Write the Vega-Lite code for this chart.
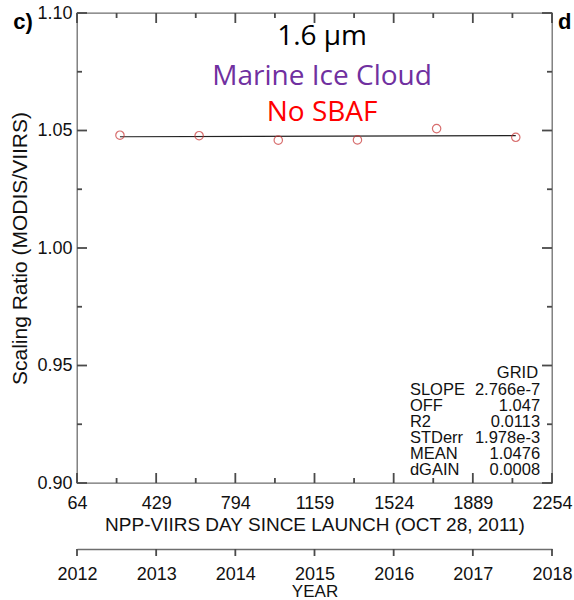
{
  "$schema": "https://vega.github.io/schema/vega-lite/v6.json",
  "width": 475,
  "height": 470,
  "autosize": "none",
  "padding": {"left": 77, "top": 13, "right": 22, "bottom": 117},
  "background": "white",
  "config": {
    "view": {"stroke": "#6e6e6e", "strokeWidth": 1.3},
    "axis": {
      "grid": false,
      "domain": false,
      "ticks": false,
      "domainColor": "#6e6e6e",
      "domainWidth": 1.3,
      "labelColor": "#111111",
      "titleColor": "#111111",
      "labelFont": "Liberation Sans",
      "titleFont": "Liberation Sans",
      "labelFontSize": 18,
      "titleFontSize": 19,
      "titleFontWeight": "normal",
      "labelFlush": false,
      "labelOverlap": false
    },
    "rule": {"color": "#4a4a4a", "strokeWidth": 1.8, "opacity": 1}
  },
  "datasets": {
    "obs": [
      {"day": 262, "ratio": 1.0480},
      {"day": 627, "ratio": 1.0478},
      {"day": 992, "ratio": 1.0459},
      {"day": 1357, "ratio": 1.0460},
      {"day": 1722, "ratio": 1.0508},
      {"day": 2087, "ratio": 1.0471}
    ],
    "fit": [
      {"day": 262, "ratio": 1.04735},
      {"day": 2087, "ratio": 1.04785}
    ],
    "dayMajor": [
      {"day": 64}, {"day": 429}, {"day": 794}, {"day": 1159},
      {"day": 1524}, {"day": 1889}, {"day": 2254}
    ],
    "dayMinor": [
      {"day": 246.5}, {"day": 611.5}, {"day": 976.5},
      {"day": 1341.5}, {"day": 1706.5}, {"day": 2071.5}
    ],
    "ratioMajor": [
      {"ratio": 0.9}, {"ratio": 0.95}, {"ratio": 1.0}, {"ratio": 1.05}, {"ratio": 1.1}
    ],
    "ratioMinor": [
      {"ratio": 0.925}, {"ratio": 0.975}, {"ratio": 1.025}, {"ratio": 1.075}
    ]
  },
  "resolve": {"axis": {"x": "independent", "y": "independent"}},
  "layer": [
    {
      "data": {"name": "fit"},
      "mark": {"type": "line", "color": "#222222", "strokeWidth": 1.2},
      "encoding": {
        "x": {
          "field": "day", "type": "quantitative",
          "scale": {"domain": [64, 2254], "nice": false, "zero": false},
          "axis": {
            "orient": "bottom",
            "values": [64, 429, 794, 1159, 1524, 1889, 2254],
            "format": "d",
            "labelPadding": 11,
            "title": "NPP-VIIRS DAY SINCE LAUNCH (OCT 28, 2011)",
            "titlePadding": 3
          }
        },
        "y": {
          "field": "ratio", "type": "quantitative",
          "scale": {"domain": [0.9, 1.1], "nice": false, "zero": false},
          "axis": {
            "orient": "left",
            "values": [0.9, 0.95, 1.0, 1.05, 1.1],
            "format": ".2f",
            "labelPadding": 5,
            "title": "Scaling Ratio (MODIS/VIIRS)",
            "titleFontSize": 21,
            "titlePadding": 6
          }
        }
      }
    },
    {
      "data": {"name": "obs"},
      "mark": {"type": "point", "shape": "circle", "filled": false, "color": "#c83232", "size": 70, "strokeWidth": 1.2},
      "encoding": {
        "x": {"field": "day", "type": "quantitative", "scale": {"domain": [64, 2254], "nice": false, "zero": false}, "axis": null},
        "y": {"field": "ratio", "type": "quantitative", "scale": {"domain": [0.9, 1.1], "nice": false, "zero": false}, "axis": null}
      }
    },
    {
      "data": {"name": "dayMajor"},
      "mark": {"type": "rule"},
      "encoding": {
        "x": {"field": "day", "type": "quantitative", "scale": {"domain": [64, 2254], "nice": false, "zero": false}, "axis": null},
        "y": {"datum": 0.9, "type": "quantitative", "scale": {"domain": [0.9, 1.1], "nice": false, "zero": false}, "axis": null},
        "y2": {"datum": 0.904255}
      }
    },
    {
      "data": {"name": "dayMajor"},
      "mark": {"type": "rule"},
      "encoding": {
        "x": {"field": "day", "type": "quantitative", "scale": {"domain": [64, 2254], "nice": false, "zero": false}, "axis": null},
        "y": {"datum": 1.1, "type": "quantitative", "scale": {"domain": [0.9, 1.1], "nice": false, "zero": false}, "axis": null},
        "y2": {"datum": 1.095745}
      }
    },
    {
      "data": {"name": "dayMinor"},
      "mark": {"type": "rule"},
      "encoding": {
        "x": {"field": "day", "type": "quantitative", "scale": {"domain": [64, 2254], "nice": false, "zero": false}, "axis": null},
        "y": {"datum": 0.9, "type": "quantitative", "scale": {"domain": [0.9, 1.1], "nice": false, "zero": false}, "axis": null},
        "y2": {"datum": 0.902128}
      }
    },
    {
      "data": {"name": "dayMinor"},
      "mark": {"type": "rule"},
      "encoding": {
        "x": {"field": "day", "type": "quantitative", "scale": {"domain": [64, 2254], "nice": false, "zero": false}, "axis": null},
        "y": {"datum": 1.1, "type": "quantitative", "scale": {"domain": [0.9, 1.1], "nice": false, "zero": false}, "axis": null},
        "y2": {"datum": 1.097872}
      }
    },
    {
      "data": {"name": "ratioMajor"},
      "mark": {"type": "rule"},
      "encoding": {
        "y": {"field": "ratio", "type": "quantitative", "scale": {"domain": [0.9, 1.1], "nice": false, "zero": false}, "axis": null},
        "x": {"datum": 64, "type": "quantitative", "scale": {"domain": [64, 2254], "nice": false, "zero": false}, "axis": null},
        "x2": {"datum": 110.1}
      }
    },
    {
      "data": {"name": "ratioMajor"},
      "mark": {"type": "rule"},
      "encoding": {
        "y": {"field": "ratio", "type": "quantitative", "scale": {"domain": [0.9, 1.1], "nice": false, "zero": false}, "axis": null},
        "x": {"datum": 2254, "type": "quantitative", "scale": {"domain": [64, 2254], "nice": false, "zero": false}, "axis": null},
        "x2": {"datum": 2207.9}
      }
    },
    {
      "data": {"name": "ratioMinor"},
      "mark": {"type": "rule"},
      "encoding": {
        "y": {"field": "ratio", "type": "quantitative", "scale": {"domain": [0.9, 1.1], "nice": false, "zero": false}, "axis": null},
        "x": {"datum": 64, "type": "quantitative", "scale": {"domain": [64, 2254], "nice": false, "zero": false}, "axis": null},
        "x2": {"datum": 87.05}
      }
    },
    {
      "data": {"name": "ratioMinor"},
      "mark": {"type": "rule"},
      "encoding": {
        "y": {"field": "ratio", "type": "quantitative", "scale": {"domain": [0.9, 1.1], "nice": false, "zero": false}, "axis": null},
        "x": {"datum": 2254, "type": "quantitative", "scale": {"domain": [64, 2254], "nice": false, "zero": false}, "axis": null},
        "x2": {"datum": 2230.95}
      }
    },
    {
      "data": {"name": "dayMajor"},
      "mark": {"type": "rule"},
      "encoding": {
        "x": {
          "field": "day", "type": "quantitative",
          "scale": {"domain": [64, 2254], "nice": false, "zero": false},
          "axis": {
            "orient": "bottom",
            "offset": 66,
            "domain": true,
            "values": [64, 429, 794, 1159, 1524, 1889, 2254],
            "labelExpr": "'' + (2012 + round((datum.value - 64) / 365))",
            "labelPadding": 16.5,
            "title": "YEAR",
            "titleFontSize": 17,
            "titlePadding": 0
          }
        },
        "y": {"datum": 0.871915, "type": "quantitative", "scale": {"domain": [0.9, 1.1], "nice": false, "zero": false}, "axis": null},
        "y2": {"datum": 0.868936}
      }
    },
    {
      "data": {"values": [{}]},
      "mark": {"type": "text", "text": "1.6 µm", "font": "Open Sans", "fontSize": 28, "color": "#000000", "align": "center", "baseline": "middle"},
      "encoding": {
        "x": {"datum": 1194, "type": "quantitative", "scale": {"domain": [64, 2254], "nice": false, "zero": false}, "axis": null},
        "y": {"datum": 1.0898, "type": "quantitative", "scale": {"domain": [0.9, 1.1], "nice": false, "zero": false}, "axis": null}
      }
    },
    {
      "data": {"values": [{}]},
      "mark": {"type": "text", "text": "Marine Ice Cloud", "font": "Open Sans", "fontSize": 28, "color": "#7030a0", "align": "center", "baseline": "middle"},
      "encoding": {
        "x": {"datum": 1194, "type": "quantitative", "scale": {"domain": [64, 2254], "nice": false, "zero": false}, "axis": null},
        "y": {"datum": 1.0728, "type": "quantitative", "scale": {"domain": [0.9, 1.1], "nice": false, "zero": false}, "axis": null}
      }
    },
    {
      "data": {"values": [{}]},
      "mark": {"type": "text", "text": "No SBAF", "font": "Open Sans", "fontSize": 28, "color": "#ff0000", "align": "center", "baseline": "middle"},
      "encoding": {
        "x": {"datum": 1194, "type": "quantitative", "scale": {"domain": [64, 2254], "nice": false, "zero": false}, "axis": null},
        "y": {"datum": 1.0574, "type": "quantitative", "scale": {"domain": [0.9, 1.1], "nice": false, "zero": false}, "axis": null}
      }
    },
    {
      "data": {"values": [{}]},
      "mark": {
        "type": "text",
        "text": ["SLOPE", "OFF", "R2", "STDerr", "MEAN", "dGAIN"],
        "font": "Liberation Sans", "fontSize": 16.5, "lineHeight": 16,
        "color": "#111111", "align": "left", "baseline": "alphabetic"
      },
      "encoding": {
        "x": {"datum": 1599, "type": "quantitative", "scale": {"domain": [64, 2254], "nice": false, "zero": false}, "axis": null},
        "y": {"datum": 0.93745, "type": "quantitative", "scale": {"domain": [0.9, 1.1], "nice": false, "zero": false}, "axis": null}
      }
    },
    {
      "data": {"values": [{}]},
      "mark": {
        "type": "text",
        "text": ["2.766e-7", "1.047", "0.0113", "1.978e-3", "1.0476", "0.0008"],
        "font": "Liberation Sans", "fontSize": 16.5, "lineHeight": 16,
        "color": "#111111", "align": "right", "baseline": "alphabetic"
      },
      "encoding": {
        "x": {"datum": 2199, "type": "quantitative", "scale": {"domain": [64, 2254], "nice": false, "zero": false}, "axis": null},
        "y": {"datum": 0.93745, "type": "quantitative", "scale": {"domain": [0.9, 1.1], "nice": false, "zero": false}, "axis": null}
      }
    },
    {
      "data": {"values": [{}]},
      "mark": {"type": "text", "text": "GRID", "font": "Liberation Sans", "fontSize": 16.5, "color": "#111111", "align": "right", "baseline": "alphabetic"},
      "encoding": {
        "x": {"datum": 2190, "type": "quantitative", "scale": {"domain": [64, 2254], "nice": false, "zero": false}, "axis": null},
        "y": {"datum": 0.94468, "type": "quantitative", "scale": {"domain": [0.9, 1.1], "nice": false, "zero": false}, "axis": null}
      }
    },
    {
      "data": {"values": [{}]},
      "mark": {"type": "text", "text": "c)", "font": "Liberation Sans", "fontSize": 22, "fontWeight": "bold", "color": "#000000", "align": "center", "baseline": "middle"},
      "encoding": {
        "x": {"datum": -185, "type": "quantitative", "scale": {"domain": [64, 2254], "nice": false, "zero": false}, "axis": null},
        "y": {"datum": 1.0962, "type": "quantitative", "scale": {"domain": [0.9, 1.1], "nice": false, "zero": false}, "axis": null}
      }
    },
    {
      "data": {"values": [{}]},
      "mark": {"type": "text", "text": "d", "font": "Liberation Sans", "fontSize": 22, "fontWeight": "bold", "color": "#000000", "align": "left", "baseline": "middle"},
      "encoding": {
        "x": {"datum": 2282, "type": "quantitative", "scale": {"domain": [64, 2254], "nice": false, "zero": false}, "axis": null},
        "y": {"datum": 1.0962, "type": "quantitative", "scale": {"domain": [0.9, 1.1], "nice": false, "zero": false}, "axis": null}
      }
    }
  ]
}
